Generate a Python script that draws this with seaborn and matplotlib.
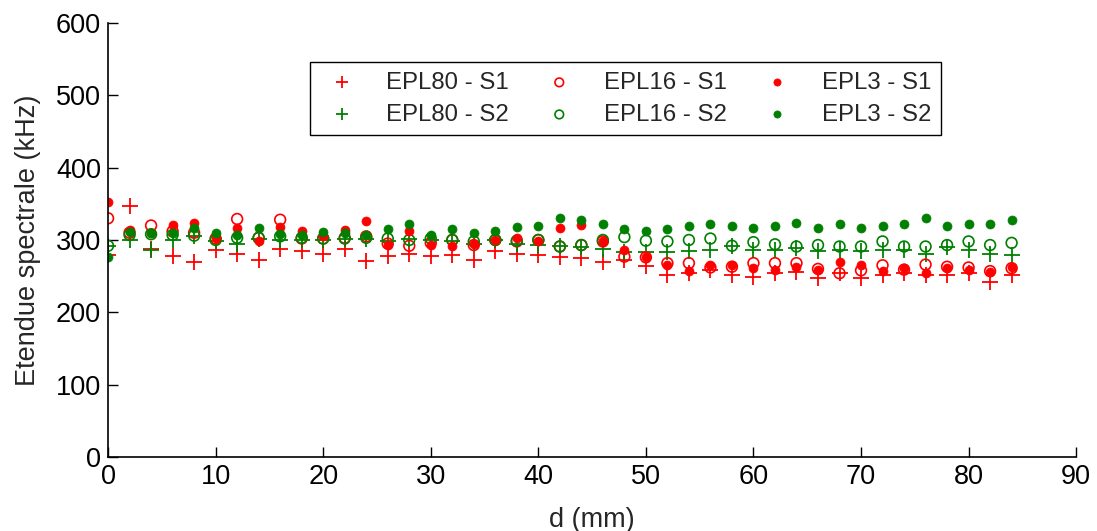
import numpy as np
import pandas as pd
import seaborn as sns
import matplotlib
matplotlib.use("Agg")
import matplotlib.pyplot as plt

# distance (mm)
d = list(range(0, 85, 2))

# spectral range (kHz)
epl80_s1 = [279, 347, 288, 278, 269, 286, 281, 273, 287, 285, 281, 288, 271, 278, 281, 278, 279, 272, 285, 281, 279, 277,
            275, 270, 272, 264, 252, 254, 258, 252, 249, 255, 256, 247, 254, 247, 252, 254, 251, 252, 255, 242, 252]
epl80_s2 = [292, 300, 286, 300, 305, 298, 294, 302, 300, 300, 300, 302, 301, 298, 302, 300, 298, 295, 300, 295, 293, 291,
            290, 288, 284, 284, 284, 285, 286, 291, 286, 286, 289, 285, 286, 285, 286, 286, 281, 290, 286, 281, 279]
epl16_s1 = [330, 310, 320, 312, 310, 302, 329, 303, 328, 302, 302, 303, 305, 295, 292, 296, 300, 293, 300, 298, 300, 291,
            293, 298, 277, 276, 268, 268, 262, 263, 268, 268, 268, 260, 254, 258, 265, 259, 266, 263, 262, 257, 261]
epl16_s2 = [292, 307, 308, 307, 306, 300, 303, 303, 305, 303, 302, 302, 303, 302, 300, 302, 300, 298, 300, 299, 300, 291,
            293, 300, 304, 299, 298, 300, 302, 292, 297, 294, 291, 293, 291, 291, 298, 291, 291, 293, 298, 293, 296]
epl3_s1 = [352, 314, 310, 321, 324, 303, 317, 298, 318, 312, 305, 314, 326, 293, 312, 293, 291, 295, 300, 303, 298, 316,
           321, 298, 286, 277, 265, 257, 265, 266, 261, 258, 263, 258, 269, 265, 257, 261, 254, 261, 258, 256, 262]
epl3_s2 = [276, 311, 310, 309, 316, 309, 307, 317, 308, 307, 311, 309, 307, 315, 322, 307, 315, 310, 312, 318, 320, 330,
           328, 322, 315, 312, 315, 320, 322, 319, 317, 319, 324, 317, 322, 317, 320, 322, 330, 320, 322, 322, 328]

red = "#ff0000"
green = "#008000"

sns.set_style("ticks")
plt.rcParams['font.family'] = ['Liberation Sans', 'DejaVu Sans']
plt.rcParams['xtick.direction'] = 'in'
plt.rcParams['ytick.direction'] = 'in'

fs = 19.5
leg_fs = 17.3

fig = plt.figure(figsize=(10.97, 5.31), dpi=100)
ax = fig.add_axes([0.0985, 0.1394, 0.8825, 0.8173])

# plus markers
sns.scatterplot(x=d, y=epl80_s1, marker='+', color=red, s=125, linewidth=1.3, label='EPL80 - S1', legend=False, ax=ax)
sns.scatterplot(x=d, y=epl80_s2, marker='+', color=green, s=125, linewidth=1.3, label='EPL80 - S2', legend=False, ax=ax)
# open circles
sns.scatterplot(x=d, y=epl16_s1, marker='o', facecolor='none', edgecolor=red, s=60, linewidth=1.2,
                label='EPL16 - S1', legend=False, ax=ax)
sns.scatterplot(x=d, y=epl16_s2, marker='o', facecolor='none', edgecolor=green, s=60, linewidth=1.2,
                label='EPL16 - S2', legend=False, ax=ax)
# filled dots
sns.scatterplot(x=d, y=epl3_s1, marker='o', color=red, edgecolor=red, s=42, linewidth=0.5,
                label='EPL3 - S1', legend=False, ax=ax)
sns.scatterplot(x=d, y=epl3_s2, marker='o', color=green, edgecolor=green, s=42, linewidth=0.5,
                label='EPL3 - S2', legend=False, ax=ax)

ax.set_xlim(0, 90)
ax.set_ylim(0, 600)
ax.set_xticks(range(0, 91, 10))
ax.set_yticks(range(0, 601, 100))
ax.tick_params(labelsize=fs, length=7, width=1, colors='black', pad=5)
ax.set_xlabel("d (mm)", fontsize=fs, labelpad=12)
ax.set_ylabel("Etendue spectrale (kHz)", fontsize=fs, labelpad=11)
sns.despine(ax=ax)
for sp in ['left', 'bottom']:
    ax.spines[sp].set_linewidth(1.2)
    ax.spines[sp].set_color('black')

leg = ax.legend(ncol=3, loc='upper left', bbox_to_anchor=(0.209, 0.91), fontsize=leg_fs, frameon=True, fancybox=False,
                edgecolor='black', framealpha=1, borderpad=0.4, handlelength=1.8, handletextpad=0.95,
                columnspacing=1.2, labelspacing=0.42, markerscale=0.8, borderaxespad=0)
leg.get_frame().set_linewidth(1.0)

fig.savefig("out.png", dpi=100)
